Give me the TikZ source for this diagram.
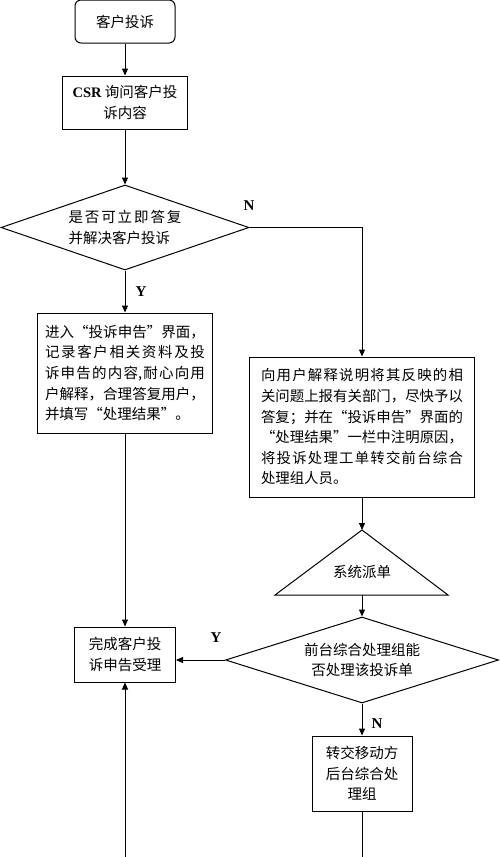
\documentclass[tikz,border=0pt]{standalone}
\usepackage{fontspec}
\setmainfont{Liberation Serif}
\newfontfamily\cjk{Noto Sans CJK SC}
\XeTeXlinebreaklocale "zh"
\XeTeXlinebreakskip=0pt plus 2pt minus 1pt
\usetikzlibrary{arrows.meta,shapes.geometric}

\begin{document}
\begin{tikzpicture}[
    x=1pt, y=-1pt,
    every node/.style={font=\cjk\fontsize{14.5}{20.6}\selectfont, inner sep=0pt},
    start/.style={draw, rounded corners=6pt, line width=1pt, minimum width=100pt, minimum height=43pt, align=center},
    proc/.style={draw, line width=1pt, align=center},
    dec/.style={draw, diamond, line width=1pt, align=center},
    txt/.style={text width=#1, align=justify},
    yn/.style={font=\rmfamily\bfseries\fontsize{15}{18}\selectfont}, % Stil für die Y/N-Beschriftung
    flow/.style={line width=1pt, -{Triangle[length=7pt,width=6pt]}}
]
\useasboundingbox (0,0) rectangle (500,857);

\node[start] (start) at (125,21.5) {客户投诉};
\node[proc, minimum width=125pt, minimum height=53pt] (ask) at (125,102.5) {{\rmfamily\bfseries CSR} 询问客户投\\诉内容};
\node[dec, align=left, minimum width=248pt, minimum height=85pt, aspect=2.9] (dec1) at (125,227.5)
    {\makebox[113pt][s]{是\hfil 否\hfil 可\hfil 立\hfil 即\hfil 答\hfil 复}\\并解决客户投诉};
\node[proc, txt=160pt, minimum width=175pt, minimum height=120pt, font=\cjk\fontsize{14.5}{20.7}\selectfont] (rec) at (125,373)
    {进入“投诉申告”界面，\linebreak 记录客户相关资料及投\linebreak 诉申告的内容,耐心向用\linebreak 户解释，合理答复用户，\linebreak 并填写“处理结果”。};
\node[proc, txt=202pt, minimum width=225pt, minimum height=140pt, font=\cjk\fontsize{14.4}{20.6}\selectfont] (expl) at (362,427)
    {向用户解释说明将其反映的相\linebreak 关问题上报有关部门，尽快予以\linebreak 答复；并在“投诉申告”界面的\linebreak “处理结果”一栏中注明原因，\linebreak 将投诉处理工单转交前台综合\linebreak 处理组人员。};

\coordinate (systop) at (362,530);
\coordinate (sysbot) at (362,595);
\draw[line width=1pt] (275,595) -- (systop) -- (448,595) -- cycle;
\node (sys) at (362,572) {系统派单};

\node[dec, minimum width=273pt, minimum height=86pt, aspect=3.2] (dec2) at (362,660) {前台综合处理组能\\否处理该投诉单};
\node[proc, minimum width=101pt, minimum height=55pt] (done) at (125,654.5) {完成客户投\\诉申告受理};
\node[proc, minimum width=100pt, minimum height=75pt] (back) at (362,773.5) {转交移动方\\后台综合处\\理组};
\coordinate (inL) at (125,857);
\coordinate (outR) at (362,857);

\node[yn] (n1) at (249,206) {N};
\node[yn] (y1) at (141,292) {Y};
\node[yn] (y2) at (216,638) {Y};
\node[yn] (n2) at (377,724) {N};

\draw[flow] (start) -- (ask);
\draw[flow] (ask) -- (dec1);
\draw[flow] (dec1) -- (rec);
\draw[flow] (dec1.east) -| (expl.north);
\draw[flow] (rec) -- (done);
\draw[flow] (expl) -- (systop);
\draw[flow] (sysbot) -- (dec2);
\draw[flow] (dec2.west) -- (dec2.west -| done.east);
\draw[flow] (dec2) -- (back);
\draw[flow] (inL) -- (done);
\draw[line width=1pt] (back) -- (outR);

\end{tikzpicture}
\end{document}
